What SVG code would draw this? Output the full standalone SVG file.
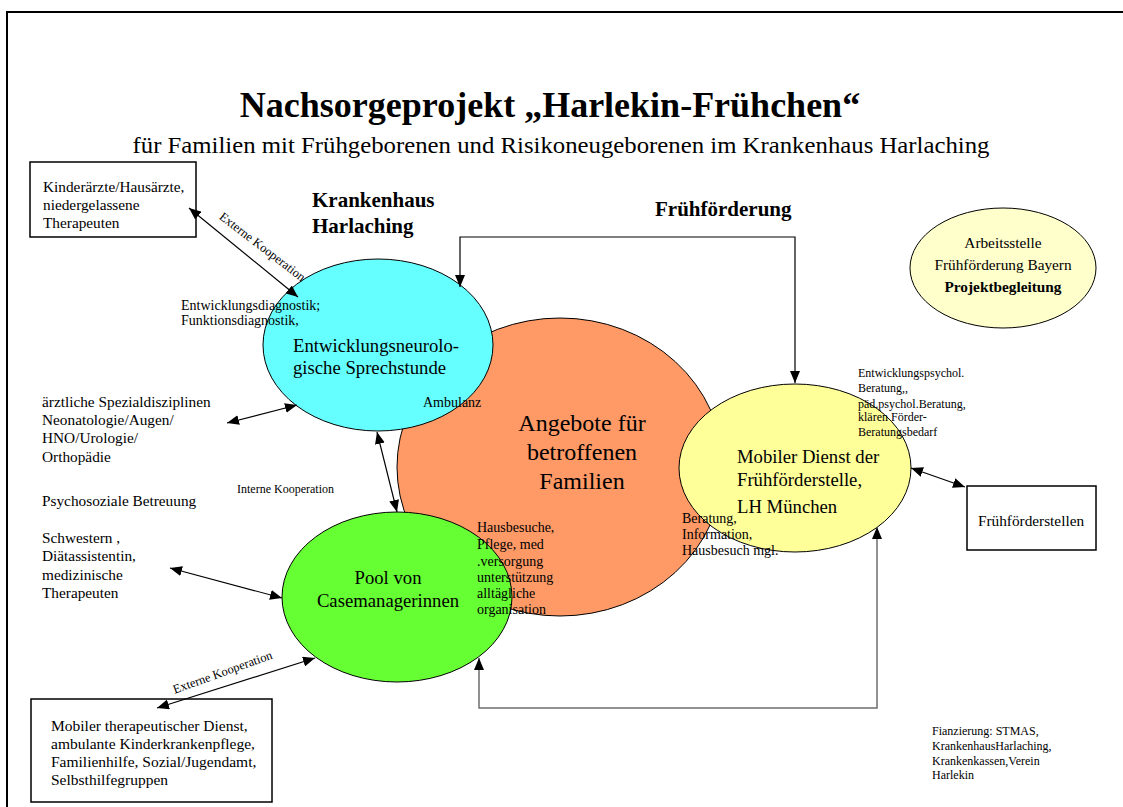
<svg xmlns="http://www.w3.org/2000/svg" width="1123" height="807" viewBox="0 0 1123 807" font-family="Liberation Serif, serif">
<defs>
<marker id="ah" viewBox="0 0 12 10" refX="12" refY="5" markerWidth="12" markerHeight="10" markerUnits="userSpaceOnUse" orient="auto-start-reverse"><path d="M0,0 L12,5 L0,10 z" fill="#000"/></marker>
<style>
text{font-family:"Liberation Serif","Times New Roman",serif;fill:#000}
.t15{font-size:15.3px}
.t12{font-size:12px}
.t14{font-size:14px}
.big{font-size:18.7px}
.b21{font-size:21px;font-weight:bold}
.mid{text-anchor:middle}
.box{fill:#fff;stroke:#000;stroke-width:1.5}
.ell{stroke:#000;stroke-width:1}
.con{fill:none;stroke:#000;stroke-width:1.2;marker-start:url(#ah);marker-end:url(#ah)}
.gray{fill:none;stroke:#6e6e6e;stroke-width:1.5;marker-start:url(#ah);marker-end:url(#ah)}
</style>
</defs>
<rect x="0" y="0" width="1123" height="807" fill="#fff"/>
<rect x="7" y="12" width="1130" height="810" fill="none" stroke="#000" stroke-width="2"/>

<g id="title">
<text x="550" y="117" font-size="36" font-weight="bold" class="mid">Nachsorgeprojekt „Harlekin-Frühchen“</text>
<text x="561" y="153" font-size="23.5" class="mid" textLength="857" lengthAdjust="spacingAndGlyphs">für Familien mit Frühgeborenen und Risikoneugeborenen im Krankenhaus Harlaching</text>
</g>

<g id="headings">
<text x="312" y="207" class="b21">Krankenhaus</text>
<text x="312" y="233" class="b21">Harlaching</text>
<text x="655" y="216" class="b21">Frühförderung</text>
</g>

<g id="angebote">
<ellipse cx="560" cy="467" rx="163" ry="149" fill="#FF9966" class="ell"/>
<text x="582" y="431" font-size="24" class="mid">Angebote für</text>
<text x="582" y="460" font-size="24" class="mid">betroffenen</text>
<text x="582" y="489" font-size="24" class="mid">Familien</text>
</g>

<g id="sprechstunde">
<ellipse cx="378" cy="345" rx="115" ry="86" fill="#66FFFF" class="ell"/>
<text x="293" y="352" class="big">Entwicklungsneurolo-</text>
<text x="293" y="374" class="big">gische Sprechstunde</text>
</g>

<g id="pool">
<ellipse cx="397" cy="597" rx="115" ry="85" fill="#66FF33" class="ell"/>
<text x="388" y="584" class="big mid">Pool von</text>
<text x="388" y="607" class="big mid">Casemanagerinnen</text>
</g>

<g id="mobiler-dienst">
<ellipse cx="795" cy="468" rx="116" ry="84" fill="#FFFF99" class="ell"/>
<text x="737" y="463" class="big">Mobiler Dienst der</text>
<text x="737" y="486" class="big">Frühförderstelle,</text>
<text x="737" y="513" class="big">LH München</text>
</g>

<g id="arbeitsstelle">
<ellipse cx="1003" cy="268" rx="93" ry="60" fill="#FFFFCC" class="ell"/>
<text x="1003" y="248" class="t15 mid">Arbeitsstelle</text>
<text x="1003" y="270" class="t15 mid">Frühförderung Bayern</text>
<text x="1003" y="292" class="t15 mid" font-weight="bold">Projektbegleitung</text>
</g>

<g id="kinderaerzte">
<rect x="30" y="162" width="166" height="75" class="box"/>
<text x="43" y="192" class="t15">Kinderärzte/Hausärzte,</text>
<text x="43" y="210" class="t15">niedergelassene</text>
<text x="43" y="228" class="t15">Therapeuten</text>
</g>

<g id="spezialdisziplinen">
<text x="42" y="407" class="t15">ärztliche Spezialdisziplinen</text>
<text x="42" y="425" class="t15">Neonatologie/Augen/</text>
<text x="42" y="443" class="t15">HNO/Urologie/</text>
<text x="42" y="462" class="t15">Orthopädie</text>
</g>

<g id="psychosozial">
<text x="42" y="506" class="t15">Psychosoziale Betreuung</text>
</g>

<g id="schwestern">
<text x="42" y="543" class="t15">Schwestern ,</text>
<text x="42" y="561" class="t15">Diätassistentin,</text>
<text x="42" y="580" class="t15">medizinische</text>
<text x="42" y="598" class="t15">Therapeuten</text>
</g>

<g id="mobiler-therapeutischer-dienst">
<rect x="31" y="699" width="241" height="103" class="box"/>
<text x="51" y="731" font-size="15.5">Mobiler therapeutischer Dienst,</text>
<text x="51" y="749" font-size="15.5">ambulante Kinderkrankenpflege,</text>
<text x="51" y="767" font-size="15.5">Familienhilfe, Sozial/Jugendamt,</text>
<text x="51" y="785" font-size="15.5">Selbsthilfegruppen</text>
</g>

<g id="fruehfoerderstellen">
<rect x="967" y="486" width="129" height="64" class="box"/>
<text x="1031" y="526" class="t15 mid">Frühförderstellen</text>
</g>

<g id="annotations">
<text x="181" y="310" class="t14">Entwicklungsdiagnostik;</text>
<text x="181" y="325" class="t14">Funktionsdiagnostik,</text>
<text x="423" y="407" class="t14">Ambulanz</text>
<text x="237" y="493" class="t12">Interne Kooperation</text>
<text x="477" y="532" class="t14">Hausbesuche,</text>
<text x="477" y="549" class="t14">Pflege, med</text>
<text x="477" y="566" class="t14">.versorgung</text>
<text x="477" y="582" class="t14">unterstützung</text>
<text x="477" y="598" class="t14">alltägliche</text>
<text x="477" y="614" class="t14">organisation</text>
<text x="682" y="523" class="t14">Beratung,</text>
<text x="682" y="539" class="t14">Information,</text>
<text x="682" y="555" class="t14">Hausbesuch mgl.</text>
<text x="858" y="377" class="t12">Entwicklungspsychol.</text>
<text x="858" y="392" class="t12">Beratung,,</text>
<text x="858" y="408" class="t12">päd.psychol.Beratung,</text>
<text x="858" y="421" class="t12">klären Förder-</text>
<text x="858" y="436" class="t12">Beratungsbedarf</text>
<text x="932" y="735" class="t12">Fianzierung: STMAS,</text>
<text x="932" y="750" class="t12">KrankenhausHarlaching,</text>
<text x="932" y="765" class="t12">Krankenkassen,Verein</text>
<text x="932" y="779" class="t12">Harlekin</text>
</g>

<g id="connectors">
<line x1="189" y1="208" x2="298" y2="297" class="con"/>
<text transform="translate(260,250) rotate(37.5)" font-size="12.5" class="mid">Externe Kooperation</text>
<line x1="227" y1="423" x2="297" y2="405" class="con"/>
<line x1="377" y1="432" x2="397" y2="512" class="con"/>
<line x1="170" y1="568" x2="282" y2="598" class="con"/>
<line x1="157" y1="708" x2="315" y2="658" class="con"/>
<text transform="translate(224,676) rotate(-19.8)" font-size="12.5" class="mid">Externe Kooperation</text>
<line x1="911" y1="468" x2="965" y2="487" class="con"/>
<path d="M460,287 L460,237 L795,237 L795,383" class="con"/>
<path d="M877,527 L877,708 L479,708 L479,658" class="gray"/>
</g>
</svg>
